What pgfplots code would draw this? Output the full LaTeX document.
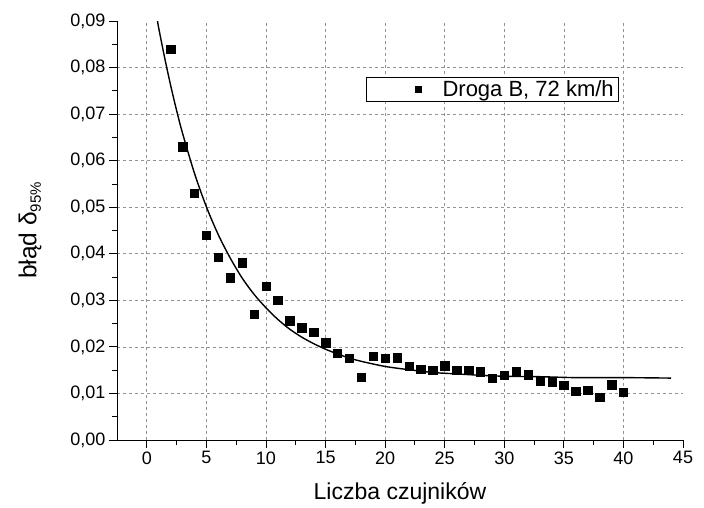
\documentclass[border=0pt]{standalone}
\usepackage{pgfplots}
\pgfplotsset{compat=1.18}
\usepackage{fontspec}
\setmainfont{Liberation Sans}

\begin{document}
\begin{tikzpicture}
	\begin{axis}[
	scale only axis,
	width=566pt, height=419pt,
	xmin=-2.5, xmax=45,
	ymin=0, ymax=0.09,
	axis x line*=bottom, axis y line*=left,
	axis line style={line width=0.9pt, -},
	xtick={0,5,10,15,20,25,30,35,40},
	extra x ticks={45}, extra x tick style={grid=none},
	ytick={0,0.01,0.02,0.03,0.04,0.05,0.06,0.07,0.08},
	extra y ticks={0.09}, extra y tick style={grid=none},
	minor xtick={2.5,7.5,12.5,17.5,22.5,27.5,32.5,37.5,42.5},
	minor ytick={0.005,0.015,0.025,0.035,0.045,0.055,0.065,0.075,0.085},
	scaled y ticks=false,
	tick align=outside,
	major tick length=8pt, minor tick length=4.5pt,
	tick style={black, line width=0.8pt},
	grid=major,
	major grid style={gray!85, line width=0.6pt, dash pattern=on 3pt off 3pt},
	/pgf/number format/assume math mode=true,
	yticklabel style={/pgf/number format/fixed, /pgf/number format/fixed zerofill,
		/pgf/number format/precision=2, /pgf/number format/use comma},
	ticklabel style={font=\fontsize{18}{21}\selectfont},
	xlabel={Liczba czujników},
	ylabel={błąd δ\raisebox{-0.35ex}{\fontsize{15}{15}\selectfont 95\%}},
	xlabel style={font=\fontsize{23}{26}\selectfont,
		at={(axis description cs:0.5,-0.1265)}, anchor=center},
	ylabel style={font=\fontsize{24.5}{27}\selectfont,
		at={(axis description cs:-0.1537,0.5)}, anchor=center},
	legend style={at={(rel axis cs:0.887,0.866)}, anchor=north east,
		draw=black, line width=0.6pt, font=\fontsize{22}{25}\selectfont,
		inner ysep=1pt},
	legend image code/.code={
		\path (-49pt,0pt) (22pt,0pt);
		\draw[mark=square*, mark size=2.8pt, black, mark options={solid}] plot coordinates {(0pt,0pt)};
	},
	]

	% punkty pomiarowe
	\addplot[only marks, mark=square*, mark size=4.2pt, black]
	coordinates{
		(2,0.0840) (3,0.0630) (4,0.0530) (5,0.0440) (6,0.0393)
		(7,0.0349) (8,0.0381) (9,0.0270) (10,0.0330) (11,0.0300)
		(12,0.0256) (13,0.0241) (14,0.0231) (15,0.0209) (16,0.0187)
		(17,0.0176) (18,0.0135) (19,0.0180) (20,0.0176) (21,0.0177)
		(22,0.0159) (23,0.0152) (24,0.0150) (25,0.0160) (26,0.0150)
		(27,0.0150) (28,0.0147) (29,0.0133) (30,0.0139) (31,0.0147)
		(32,0.0140) (33,0.0127) (34,0.0125) (35,0.0118) (36,0.0105)
		(37,0.0107) (38,0.0092) (39,0.0119) (40,0.0103)
	};
	\addlegendentry{Droga B, 72 km/h}

	% krzywa dopasowania
	\addplot[black, line width=1.4pt, smooth, forget plot]
	coordinates{
		(0.9,0.0900) (1,0.0885) (1.5,0.0821) (2,0.0762) (2.5,0.0708)
		(3,0.0659) (4,0.0573) (5,0.0501) (6,0.0441) (7,0.0391)
		(8,0.0348) (9,0.0313) (10,0.0284) (11,0.0259) (12,0.0238)
		(13,0.0221) (14,0.0207) (15,0.0195) (16,0.0185) (17,0.0176)
		(18,0.0169) (20,0.0158) (22,0.0151) (24,0.0145) (26,0.0142)
		(28,0.0139) (30,0.0137) (33,0.0136) (36,0.0134) (40,0.0134)
		(44,0.0133)
	};

	\end{axis}
	\pgfresetboundingbox
	\path (current axis.south west) ++(-117pt,-67pt) rectangle ++(704pt,507pt);
\end{tikzpicture}
\end{document}
